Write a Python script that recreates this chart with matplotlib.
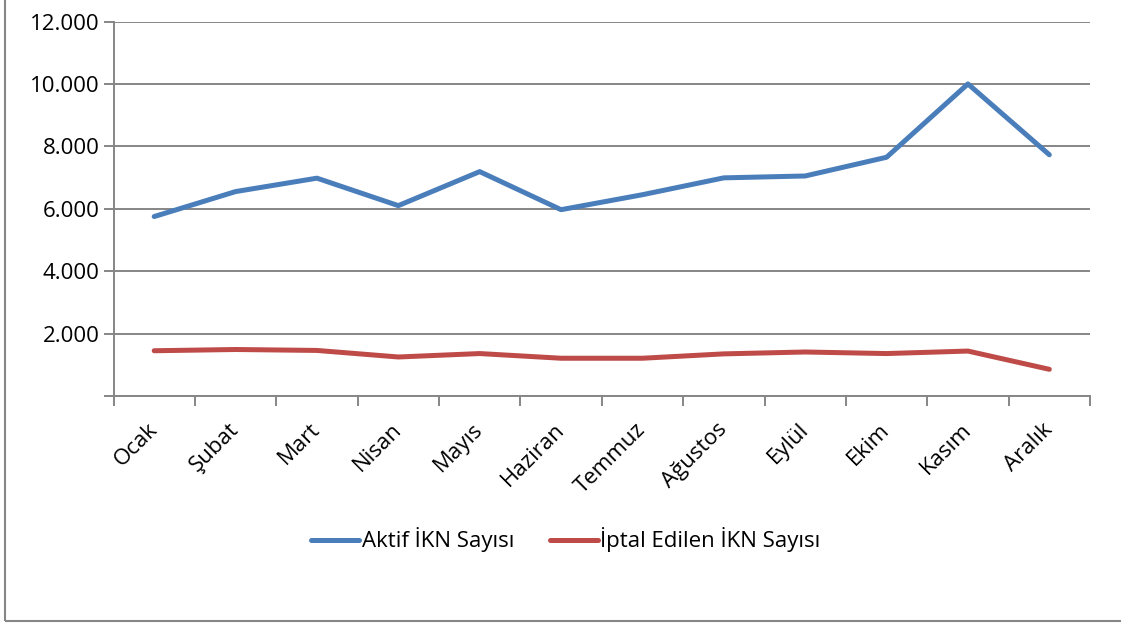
import matplotlib.pyplot as plt
from matplotlib.patches import Rectangle
from matplotlib.ticker import FuncFormatter, FixedLocator

plt.rcParams['font.family'] = ['Open Sans', 'DejaVu Sans']

aylar = ["Ocak", "Şubat", "Mart", "Nisan", "Mayıs", "Haziran",
         "Temmuz", "Ağustos", "Eylül", "Ekim", "Kasım", "Aralık"]
aktif = [5750, 6550, 6980, 6100, 7190, 5970, 6450, 6990, 7050, 7650, 10000, 7730]
iptal = [1450, 1490, 1460, 1250, 1360, 1210, 1210, 1350, 1410, 1360, 1440, 855]
y_ticks = [0, 2000, 4000, 6000, 8000, 10000, 12000]

fs = 16

fig = plt.figure(figsize=(11.21, 6.23), dpi=100)
ax = fig.add_axes([113.5 / 1121, 1 - 396 / 623, (1090 - 113.5) / 1121, (396 - 21.5) / 623])

x = list(range(len(aylar)))
ax.plot(x, aktif, color='#4A7EBB', lw=3.6, solid_capstyle='round', label='Aktif İKN Sayısı', zorder=3)
ax.plot(x, iptal, color='#BE4B48', lw=3.6, solid_capstyle='round', label='İptal Edilen İKN Sayısı', zorder=3)

ax.set_xlim(-0.5, len(aylar) - 0.5)
ax.set_ylim(0, 12000)
ax.set_yticks(y_ticks)
ax.yaxis.set_major_formatter(FuncFormatter(lambda v, p: '' if v == 0 else f"{int(v):,}".replace(',', '.')))
ax.grid(axis='y', color='#868686', lw=1.4)
ax.set_axisbelow(True)

# category ticks sit between the months, labels at the centres
ax.xaxis.set_major_locator(FixedLocator([i - 0.5 for i in range(len(aylar) + 1)]))
ax.xaxis.set_major_formatter(FuncFormatter(lambda v, p: ''))
ax.xaxis.set_minor_locator(FixedLocator(x))
ax.set_xticklabels(aylar, minor=True, rotation=45, ha='right', va='center',
                   rotation_mode='anchor', fontsize=fs)
ax.tick_params(axis='x', which='minor', length=0, pad=22)
ax.tick_params(axis='x', which='major', length=7, width=1.4, color='#868686', direction='out')
ax.tick_params(axis='y', length=7, width=1.4, color='#868686', labelsize=fs, pad=3)

for s in ['top', 'right']:
    ax.spines[s].set_visible(False)
for s in ['left', 'bottom']:
    ax.spines[s].set_color('#868686')
    ax.spines[s].set_linewidth(1.4)

leg = fig.legend(loc='center', bbox_to_anchor=(566 / 1121, 1 - 540 / 623), ncol=2, frameon=False,
                 fontsize=fs, handlelength=2.15, handletextpad=0.12, columnspacing=1.6)
for h in leg.get_lines():
    h.set_solid_capstyle('round')

fig.patches.append(Rectangle((5 / 1121, 2 / 623), 1.2, 1.2, transform=fig.transFigure,
                             fill=False, edgecolor='#868686', lw=1.5))

fig.savefig('out.png', dpi=100)
